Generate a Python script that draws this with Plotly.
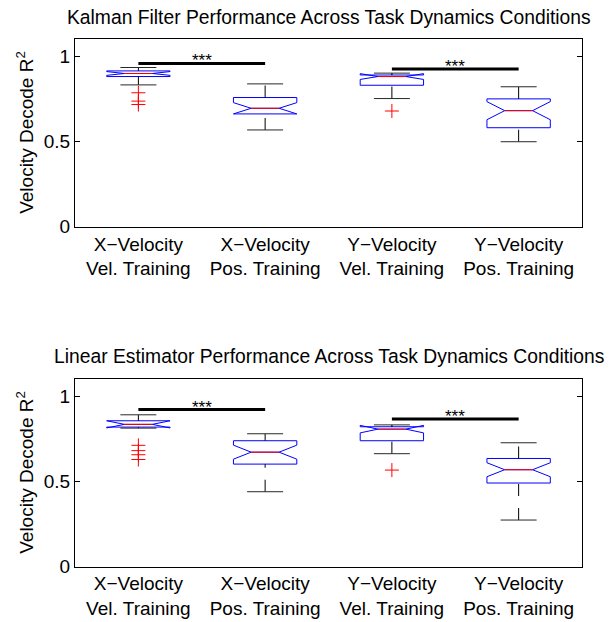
import plotly.graph_objects as go

# ---------------- data ----------------
positions = [1, 2, 3, 4]
categories = ["X\u2212Velocity<br>Vel. Training", "X\u2212Velocity<br>Pos. Training",
              "Y\u2212Velocity<br>Vel. Training", "Y\u2212Velocity<br>Pos. Training"]
y_tickvals = [0, 0.5, 1]
y_ticktext = ["0", "0.5", "1"]

# Kalman filter (top)
kf_lo = [0.831, 0.567, 0.751, 0.498]
kf_q1 = [0.880, 0.661, 0.829, 0.580]
kf_med = [0.898, 0.694, 0.880, 0.680]
kf_q3 = [0.913, 0.757, 0.889, 0.749]
kf_hi = [0.933, 0.837, 0.900, 0.820]
kf_notch = [0.011, 0.033, 0.017, 0.053]
kf_outliers = [[0.785, 0.736, 0.716], [], [0.678], []]
kf_sig = [(1, 2, 0.957), (3, 4, 0.924)]

# Linear estimator (bottom)
le_lo = [0.812, 0.439, 0.662, 0.273]
le_q1 = [0.818, 0.601, 0.738, 0.490]
le_med = [0.834, 0.671, 0.806, 0.568]
le_q3 = [0.855, 0.738, 0.820, 0.634]
le_hi = [0.890, 0.779, 0.831, 0.726]
le_notch = [0.021, 0.041, 0.022, 0.041]
le_outliers = [[0.711, 0.680, 0.656, 0.628], [], [0.566], []]
le_sig = [(1, 2, 0.921), (3, 4, 0.865)]

titles = ["Kalman Filter Performance Across Task Dynamics Conditions",
          "Linear Estimator Performance Across Task Dynamics Conditions"]
ylabel = "Velocity Decode R<sup>2</sup>"

# ---------------- style ----------------
FONT = "Liberation Sans, Arial, Helvetica, sans-serif"
BOX_W = 0.5
NOTCH_W = 0.28
CAP_HALF = 0.142
MED_HALF = BOX_W / 2 * (1 - 2 * NOTCH_W)

W, H = 611, 622
x_dom = [75 / W, 582 / W]
y_doms = [[(H - 226.7) / H, (H - 39) / H], [(H - 566.6) / H, (H - 379) / H]]

fig = go.Figure()


def add_panel(k, lo, q1, med, q3, hi, notch, outl, sig):
    xa = "x" if k == 0 else "x2"
    ya = "y" if k == 0 else "y2"
    fig.add_trace(go.Box(
        x=positions, q1=q1, median=med, q3=q3, lowerfence=q1, upperfence=q3,
        notchspan=notch, notched=True, notchwidth=NOTCH_W, width=BOX_W,
        whiskerwidth=0, boxpoints=False, line=dict(color="rgb(0,0,255)", width=1),
        fillcolor="rgba(0,0,0,0)", xaxis=xa, yaxis=ya, showlegend=False, hoverinfo="skip"))
    for i, p in enumerate(positions):
        # whiskers (drawn from lower end upward, dashed)
        for ya0, ya1 in [(lo[i], q1[i]), (q3[i], hi[i])]:
            fig.add_trace(go.Scatter(x=[p, p], y=[ya0, ya1], mode="lines",
                                     line=dict(color="black", width=1, dash="12px,12px"),
                                     xaxis=xa, yaxis=ya, showlegend=False, hoverinfo="skip"))
        # caps
        for v in [lo[i], hi[i]]:
            fig.add_trace(go.Scatter(x=[p - CAP_HALF, p + CAP_HALF], y=[v, v], mode="lines",
                                     line=dict(color="rgb(40,40,40)", width=1),
                                     xaxis=xa, yaxis=ya, showlegend=False, hoverinfo="skip"))
        # median
        fig.add_trace(go.Scatter(x=[p - MED_HALF, p + MED_HALF], y=[med[i], med[i]], mode="lines",
                                 line=dict(color="red", width=1),
                                 xaxis=xa, yaxis=ya, showlegend=False, hoverinfo="skip"))
        # outliers
        if outl[i]:
            fig.add_trace(go.Scatter(x=[p] * len(outl[i]), y=outl[i], mode="markers",
                                     marker=dict(symbol="cross-thin", size=10, color="red",
                                                 line=dict(color="red", width=1)),
                                     xaxis=xa, yaxis=ya, showlegend=False, hoverinfo="skip"))
    for a, b, v in sig:
        fig.add_trace(go.Scatter(x=[a, b], y=[v, v], mode="lines",
                                 line=dict(color="black", width=3),
                                 xaxis=xa, yaxis=ya, showlegend=False, hoverinfo="skip"))
        fig.add_annotation(x=(a + b) / 2, y=v, xref=xa, yref=ya, text="***", showarrow=False,
                           yanchor="bottom", xanchor="center", yshift=-9,
                           font=dict(family=FONT, size=17, color="black"))
    # title
    fig.add_annotation(x=(x_dom[0] + x_dom[1]) / 2, y=[1 - 17.5 / H, 1 - 356.5 / H][k],
                       xref="paper", yref="paper", text=titles[k], showarrow=False,
                       xanchor="center", yanchor="middle",
                       font=dict(family=FONT, size=19.3, color="black"))
    # y label
    fig.add_annotation(x=25 / W, y=(y_doms[k][0] + y_doms[k][1]) / 2, xref="paper", yref="paper",
                       text=ylabel, showarrow=False, textangle=-90,
                       xanchor="center", yanchor="middle",
                       font=dict(family=FONT, size=19, color="black"))


add_panel(0, kf_lo, kf_q1, kf_med, kf_q3, kf_hi, kf_notch, kf_outliers, kf_sig)
add_panel(1, le_lo, le_q1, le_med, le_q3, le_hi, le_notch, le_outliers, le_sig)

xcommon = dict(range=[0.5, 4.5], domain=x_dom, showline=True, mirror=True, linecolor="black",
               linewidth=1, ticks="", tickvals=positions, ticktext=categories, showgrid=False,
               zeroline=False, tickfont=dict(family=FONT, size=19, color="black"), fixedrange=True,
               automargin=False)
ycommon = dict(range=[0, 1.1], showline=True, mirror="allticks", linecolor="black", linewidth=1,
               ticks="inside", ticklen=5, tickcolor="black", tickvals=y_tickvals, ticktext=y_ticktext,
               showgrid=False, zeroline=False, tickfont=dict(family=FONT, size=19, color="black"),
               fixedrange=True, automargin=False)

fig.update_layout(
    width=W, height=H, margin=dict(l=0, r=0, t=0, b=0, autoexpand=False),
    paper_bgcolor="white", plot_bgcolor="white", showlegend=False,
    xaxis=dict(**xcommon, anchor="y"),
    yaxis=dict(**ycommon, domain=y_doms[0], anchor="x"),
    xaxis2=dict(**xcommon, anchor="y2"),
    yaxis2=dict(**ycommon, domain=y_doms[1], anchor="x2"),
)

fig.write_html("out.html", config={"displayModeBar": False, "staticPlot": True},
               post_script="document.body.style.margin='0px';")
